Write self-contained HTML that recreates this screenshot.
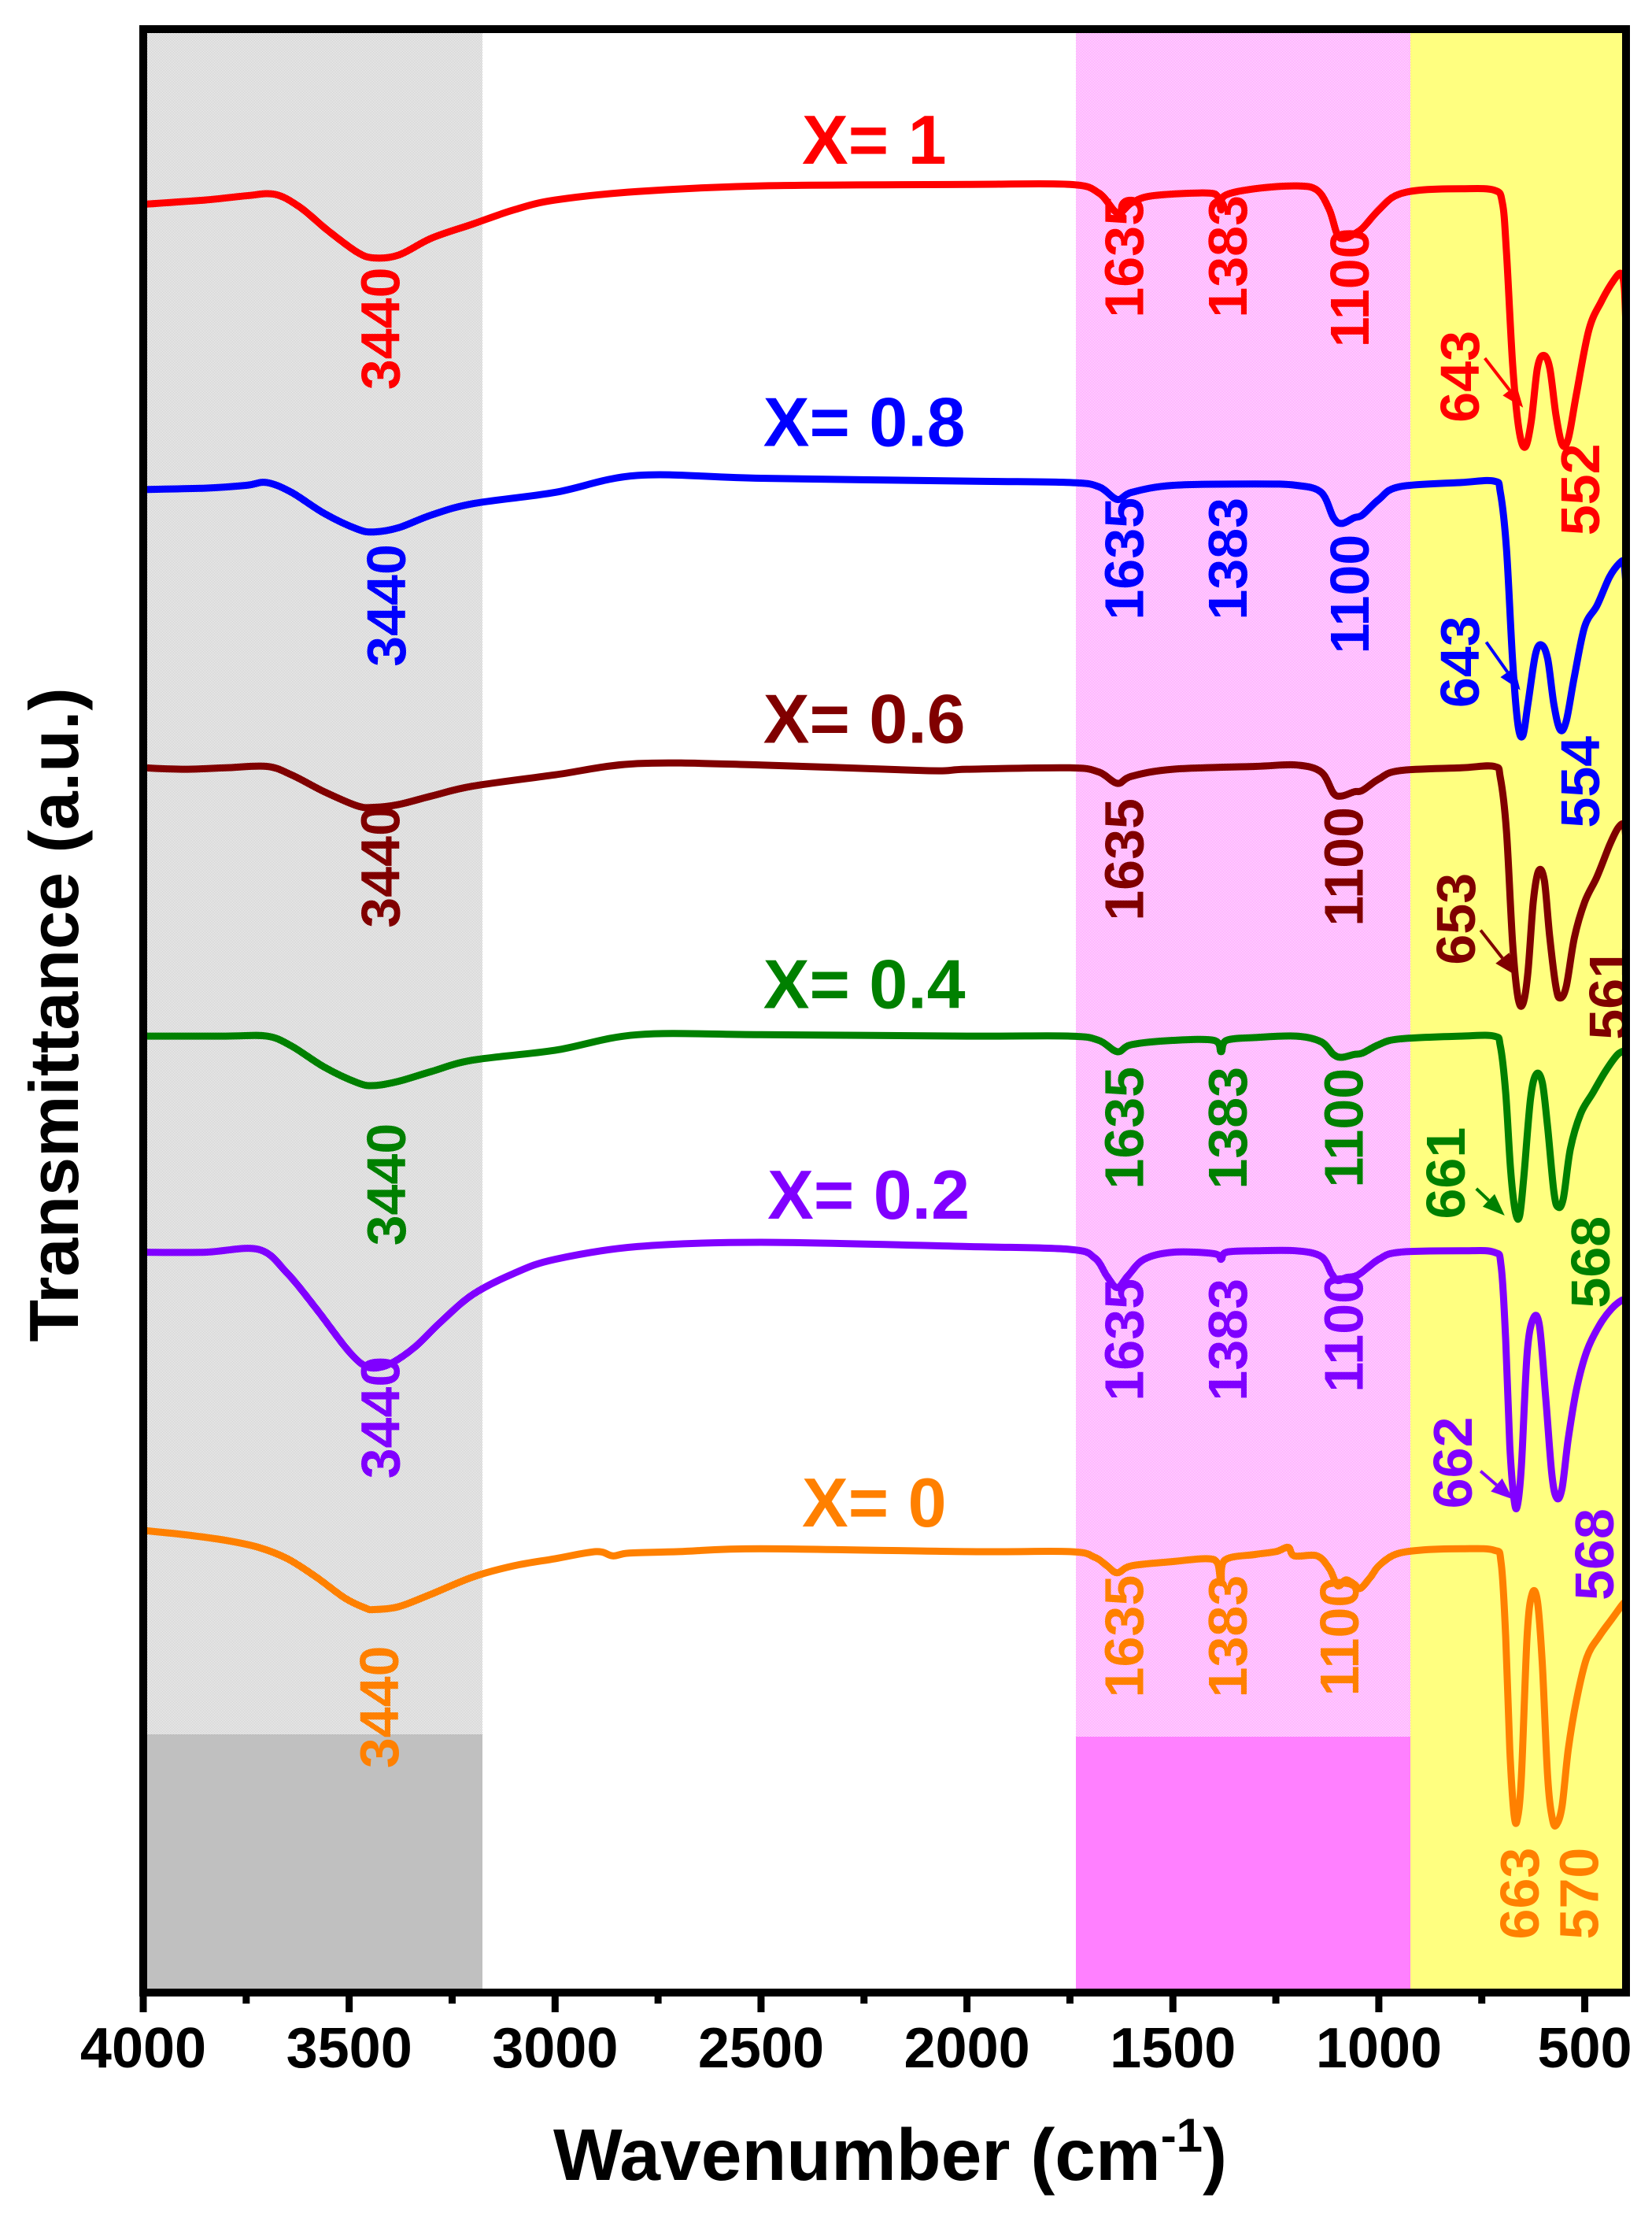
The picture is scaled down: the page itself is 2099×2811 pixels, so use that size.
<!DOCTYPE html>
<html><head><meta charset="utf-8"><style>
html,body{margin:0;padding:0;background:#fff;}
svg{display:block;}
text{font-family:"Liberation Sans",Arial,sans-serif;font-weight:bold;}
</style></head><body>
<svg id="s" xmlns="http://www.w3.org/2000/svg" width="2099" height="2811" viewBox="0 0 2099 2811">
<defs>
<pattern id="pg" width="2" height="2" patternUnits="userSpaceOnUse"><rect width="2" height="2" fill="#fff"/><rect width="1" height="1" fill="#c0c0c0"/><rect x="1" y="1" width="1" height="1" fill="#c0c0c0"/></pattern>
<pattern id="pp" width="2" height="2" patternUnits="userSpaceOnUse"><rect width="2" height="2" fill="#fff"/><rect width="1" height="1" fill="#ff80ff"/><rect x="1" y="1" width="1" height="1" fill="#ff80ff"/></pattern>
</defs>
<rect x="182" y="37" width="431" height="2166" fill="url(#pg)"/>
<rect x="182" y="2203" width="431" height="328" fill="#c0c0c0"/>
<rect x="1367" y="37" width="425" height="2169" fill="url(#pp)"/>
<rect x="1367" y="2206" width="425" height="325" fill="#ff80ff"/>
<rect x="1792" y="37" width="274" height="2494" fill="#ffff80"/>
<g id="g"></g>
<rect x="182" y="37" width="1884" height="2494" fill="none" stroke="#000" stroke-width="10"/>
<g id="ax"></g>
<text x="1131" y="2769" font-size="93" text-anchor="middle">Wavenumber (cm<tspan dy="-36" font-size="60">-1</tspan><tspan dy="36">)</tspan></text>
<text transform="translate(67,1289) rotate(-90)" x="0" y="32" font-size="88" text-anchor="middle">Transmittance (a.u.)</text>
</svg>
<script>
var NS="http://www.w3.org/2000/svg";
function X(w){return 182+(4000-w)*0.5233;}
function Y(y){return 37+(y-22)*1.794;}
function XP(x){return 182+(x-101)*1.8;}
function el(t,a,p,txt){var e=document.createElementNS(NS,t);for(var k in a)e.setAttribute(k,a[k]);if(txt!=null)e.textContent=txt;(p||document.getElementById('g')).appendChild(e);return e;}
function path(pts,col){
 var P=pts.map(function(p){return [X(p[0]),Y(p[1])];});
 var d="M"+P[0][0].toFixed(1)+","+P[0][1].toFixed(1);
 for(var i=0;i<P.length-1;i++){
  var p0=P[i-1]||P[i],p1=P[i],p2=P[i+1],p3=P[i+2]||P[i+1];
  var c1=[p1[0]+(p2[0]-p0[0])/6,p1[1]+(p2[1]-p0[1])/6];
  var c2=[p2[0]-(p3[0]-p1[0])/6,p2[1]-(p3[1]-p1[1])/6];
  d+=" C"+c1[0].toFixed(1)+","+c1[1].toFixed(1)+" "+c2[0].toFixed(1)+","+c2[1].toFixed(1)+" "+p2[0].toFixed(1)+","+p2[1].toFixed(1);
 }
 el('path',{d:d,fill:'none',stroke:col,'stroke-width':9,'stroke-linejoin':'round','stroke-linecap':'round'});
}
function vlab(xp,yp,t,col){var cx=XP(xp),cy=Y(yp);el('text',{x:cx,y:cy+25,'font-size':70,'text-anchor':'middle',fill:col,transform:'rotate(-90 '+cx+' '+cy+')'},null,t);}
function hlab(xp,yp,t,col){el('text',{x:XP(xp),y:Y(yp)+31,'font-size':88,'text-anchor':'middle',fill:col},null,t);}
function arrow(x1,y1,x2,y2,col){
 var a=XP(x1),b=Y(y1),c=XP(x2),d=Y(y2);
 var ang=Math.atan2(d-b,c-a),L=28,W=11;
 var bx=c-L*Math.cos(ang),by=d-L*Math.sin(ang);
 el('line',{x1:a,y1:b,x2:bx,y2:by,stroke:col,'stroke-width':4});
 el('polygon',{points:c+","+d+" "+(bx+W*Math.sin(ang))+","+(by-W*Math.cos(ang))+" "+(bx-W*Math.sin(ang))+","+(by+W*Math.cos(ang)),fill:col});
}
var C={r:"#ff0000",b:"#0000ff",m:"#800000",g:"#008000",p:"#8000ff",o:"#ff8000"};
path([[4000,146],[3850,143],[3750,140],[3680,139],[3620,148],[3550,165],[3480,180],[3440,184],[3380,182],[3300,170],[3200,160],[3100,150],[3000,143],[2800,137],[2500,133],[2000,132],[1750,132],[1680,138],[1635,152],[1600,145],[1550,140],[1420,138],[1390,141],[1383,150],[1375,140],[1300,135],[1200,133],[1150,136],[1120,150],[1100,168],[1080,170],[1060,167],[1040,163],[1000,150],[960,140],[900,136],[800,135],[720,136],[700,145],[690,180],[675,260],[660,305],[645,318],[630,300],[615,262],[600,253],[585,262],[570,295],[555,316],[540,312],[520,280],[490,235],[460,215],[430,200],[412,195],[404,205],[400,232]],C.r);
path([[4000,348],[3850,347],[3750,345],[3700,343],[3640,350],[3560,365],[3480,376],[3440,378],[3380,375],[3300,366],[3200,358],[3000,350],[2800,338],[2500,340],[2000,342],[1750,343],[1680,346],[1635,355],[1600,350],[1500,345],[1300,344],[1200,345],[1140,350],[1110,368],[1090,372],[1060,368],[1040,366],[1000,355],[950,346],[800,343],[720,342],[705,350],[690,390],[675,470],[662,515],[650,522],[638,500],[620,465],[605,458],[590,468],[575,500],[560,518],[545,512],[525,480],[500,445],[470,430],[440,410],[415,400],[405,400],[400,415]],C.b);
path([[4000,545],[3900,546],[3800,545],[3700,544],[3640,550],[3560,562],[3480,572],[3440,573],[3380,571],[3300,565],[3200,558],[3000,550],[2800,542],[2500,543],[2100,547],[2000,546],[1750,545],[1680,548],[1635,556],[1600,551],[1500,546],[1300,544],[1200,543],[1140,548],[1110,563],[1090,565],[1060,562],[1040,561],[1000,553],[950,547],[800,545],[720,544],[705,552],[690,590],[675,670],[662,708],[650,712],[638,690],[625,640],[612,618],[598,625],[585,665],[570,700],[560,708],[545,700],[525,665],[500,640],[470,622],[440,600],[420,588],[405,585],[400,595]],C.m);
path([[4000,735],[3800,735],[3700,735],[3640,742],[3560,757],[3480,768],[3440,770],[3380,767],[3300,760],[3200,752],[3000,745],[2800,734],[2500,734],[2000,735],[1750,735],[1680,738],[1635,746],[1600,741],[1500,738],[1400,738],[1383,746],[1370,738],[1300,736],[1200,735],[1140,739],[1110,748],[1090,750],[1060,748],[1040,747],[1000,741],[950,737],[800,735],[720,735],[705,742],[692,775],[680,830],[668,860],[658,862],[648,835],[632,780],[618,762],[603,768],[590,800],[575,845],[565,856],[552,850],[535,815],[510,790],[480,775],[450,760],[420,748],[400,745]],C.g);
path([[4000,888],[3850,888],[3720,886],[3650,903],[3580,928],[3510,955],[3470,967],[3440,970],[3400,967],[3340,955],[3280,938],[3200,918],[3100,903],[3000,893],[2800,884],[2500,881],[2000,884],[1750,886],[1690,892],[1660,905],[1635,913],[1610,905],[1570,893],[1500,888],[1400,889],[1383,893],[1370,888],[1300,887],[1200,887],[1140,891],[1115,903],[1100,908],[1080,906],[1050,904],[1000,893],[950,888],[800,887],[720,888],[703,898],[692,950],[682,1025],[672,1062],[664,1068],[654,1040],[640,960],[625,935],[610,940],[595,990],[580,1045],[568,1062],[555,1055],[540,1020],[520,985],[495,958],[465,940],[435,928],[410,922],[400,922]],C.p);
path([[4000,1085],[3900,1088],[3800,1092],[3720,1097],[3650,1105],[3580,1118],[3510,1133],[3460,1140],[3440,1141],[3380,1139],[3300,1130],[3200,1118],[3100,1110],[3000,1105],[2900,1100],[2860,1103],[2820,1101],[2700,1100],[2500,1098],[2000,1100],[1750,1100],[1690,1104],[1660,1110],[1635,1115],[1600,1110],[1500,1107],[1420,1105],[1392,1108],[1383,1122],[1374,1106],[1300,1102],[1250,1100],[1220,1097],[1205,1103],[1150,1103],[1120,1112],[1100,1124],[1080,1120],[1060,1123],[1045,1126],[1020,1118],[1000,1110],[960,1102],[900,1099],[800,1098],[720,1099],[703,1108],[692,1160],[682,1240],[672,1285],[664,1290],[654,1260],[640,1160],[628,1130],[615,1135],[603,1180],[590,1260],[578,1290],[568,1293],[555,1280],[540,1240],[520,1205],[495,1175],[465,1160],[435,1148],[410,1138],[400,1135]],C.o);
hlab(617,100,"X= 1",C.r);hlab(610,300,"X= 0.8",C.b);hlab(610,510,"X= 0.6",C.m);hlab(610,698,"X= 0.4",C.g);hlab(613,847,"X= 0.2",C.p);hlab(617,1065,"X= 0",C.o);
vlab(268,234,"3440",C.r);vlab(793,183,"1635",C.r);vlab(866,183,"1383",C.r);vlab(952,205,"1100",C.r);vlab(1030,268,"643",C.r);vlab(1115,348,"552",C.r);
vlab(272,430,"3440",C.b);vlab(793,397,"1635",C.b);vlab(866,397,"1383",C.b);vlab(952,422,"1100",C.b);vlab(1030,470,"643",C.b);vlab(1115,555,"554",C.b);
vlab(268,615,"3440",C.m);vlab(793,610,"1635",C.m);vlab(948,615,"1100",C.m);vlab(1027,652,"653",C.m);vlab(1135,705,"561",C.m);
vlab(272,840,"3440",C.g);vlab(793,800,"1635",C.g);vlab(866,800,"1383",C.g);vlab(948,800,"1100",C.g);vlab(1020,832,"661",C.g);vlab(1122,895,"568",C.g);
vlab(268,1005,"3440",C.p);vlab(793,950,"1635",C.p);vlab(866,950,"1383",C.p);vlab(948,945,"1100",C.p);vlab(1025,1037,"662",C.p);vlab(1125,1102,"568",C.p);
vlab(267,1210,"3440",C.o);vlab(793,1160,"1635",C.o);vlab(866,1160,"1383",C.o);vlab(945,1160,"1100",C.o);vlab(1072,1342,"663",C.o);vlab(1114,1342,"570",C.o);
arrow(1048,255,1075,290,C.r);arrow(1049,456,1073,490,C.b);arrow(1045,660,1070,692,C.m);arrow(1042,843,1062,862,C.g);arrow(1045,1043,1068,1063,C.p);
var ax=document.getElementById('ax');
for(var w=4000;w>=500;w-=250){var x=X(w),maj=(w%500==0);
 el('line',{x1:x,y1:2531,x2:x,y2:maj?2556:2545,stroke:'#000','stroke-width':9},ax);
 if(maj) el('text',{x:x,y:2626,'font-size':72,'text-anchor':'middle',fill:'#000'},ax,String(w));}
</script>
</body></html>
